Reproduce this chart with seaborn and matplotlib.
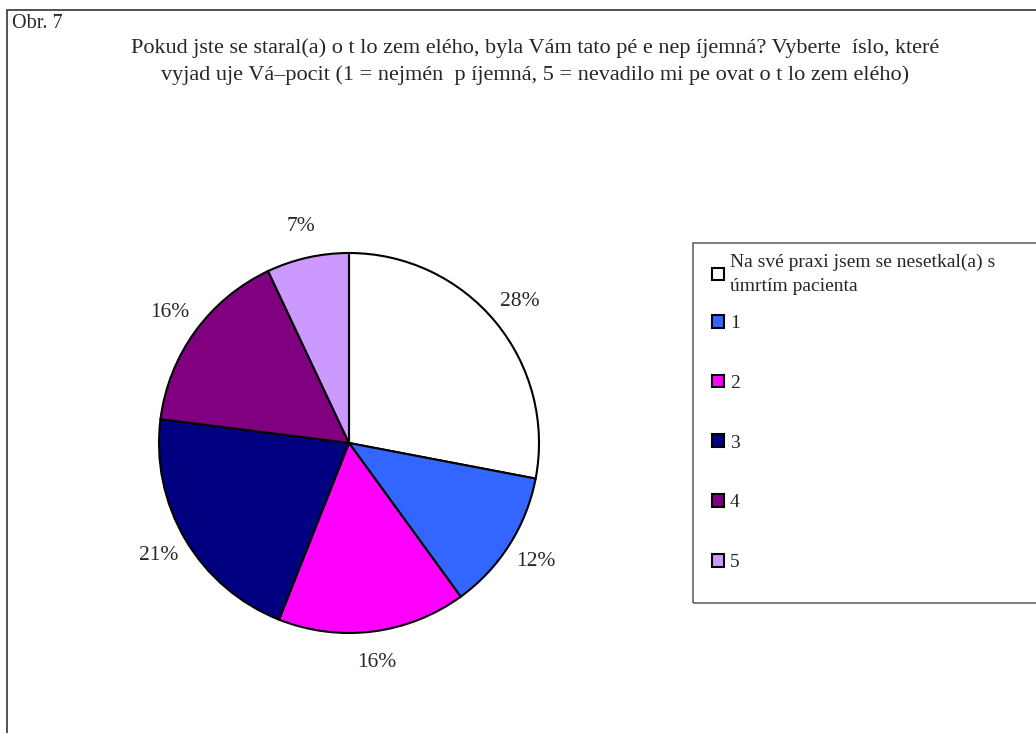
import matplotlib
matplotlib.use("Agg")
import matplotlib.pyplot as plt
from matplotlib.patches import Patch, Rectangle
import seaborn as sns

# Survey answers and their shares (percent)
categories = ["Na své praxi jsem se nesetkal(a) s\númrtím pacienta", "1", "2", "3", "4", "5"]
shares = [28, 12, 16, 21, 16, 7]
slice_colors = ["#FFFFFF", "#3366FF", "#FF00FF", "#000080", "#800080", "#CC99FF"]

fig_label = "Obr. 7"
title_lines = [
    "Pokud jste se staral(a) o t lo zem elého, byla Vám tato pé e nep íjemná? Vyberte  íslo, které",
    "vyjad uje Vá–pocit (1 = nejmén  p íjemná, 5 = nevadilo mi pe ovat o t lo zem elého)",
]

sns.set_style("white")
plt.rcParams["font.family"] = ["Liberation Serif", "DejaVu Serif"]
palette = sns.color_palette(slice_colors)

W, H = 1036, 733
fig = plt.figure(figsize=(W / 100, H / 100), dpi=100)

def fx(px):
    return px / W

def fy(py):
    return 1 - py / H

# Outer chart frame (runs off the right and bottom edges)
fig.patches.append(Rectangle((fx(7), fy(H + 20)), fx(W + 40), fy(10) - fy(H + 20),
                             transform=fig.transFigure, fill=False,
                             edgecolor="#333333", linewidth=1.2, zorder=0))

fig.text(fx(12), fy(24), fig_label, ha="left", va="center", fontsize=14.5)
fig.text(fx(535), fy(48), title_lines[0], ha="center", va="center", fontsize=16)
fig.text(fx(535), fy(75), title_lines[1], ha="center", va="center", fontsize=16)

# Pie axes: centre at (349, 443) px, radius 190 px
R = 190
half = 1.3
side = 2 * half * R
cx, cy = 349, 443
ax = fig.add_axes([fx(cx - side / 2), fy(cy + side / 2), fx(side), side / H])
wedges, texts = ax.pie(
    shares,
    colors=palette,
    startangle=90,
    counterclock=False,
    labels=[f"{v}%" for v in shares],
    labeldistance=1.165,
    wedgeprops=dict(edgecolor="black", linewidth=1.5),
    textprops=dict(fontsize=15.5),
)
for t in texts:
    t.set_ha("center")
    t.set_va("center")
ax.set_xlim(-half, half)
ax.set_ylim(-half, half)
ax.set_aspect("equal")
ax.axis("off")

# Legend box (runs off the right edge)
fig.patches.append(Rectangle((fx(693), fy(603)), fx(W), fy(243) - fy(603),
                             transform=fig.transFigure, fill=False,
                             edgecolor="#666666", linewidth=1.2, zorder=0))

lfs = 14
handles = [Patch(facecolor=c, edgecolor="black", linewidth=1.5) for c in palette]
common = dict(frameon=False, fontsize=lfs, handlelength=0.62, handleheight=0.62,
              handletextpad=0.3, borderpad=0, borderaxespad=0)

leg1 = fig.legend(handles[:1], categories[:1], loc="upper left",
                  bbox_to_anchor=(fx(712), fy(254)), labelspacing=0.2, **common)
for t in leg1.get_texts():
    t.set_linespacing(1.5)
fig.legend(handles[1:], categories[1:], loc="upper left",
           bbox_to_anchor=(fx(712), fy(315)), labelspacing=2.19, **common)

fig.savefig("out.png", dpi=100)
